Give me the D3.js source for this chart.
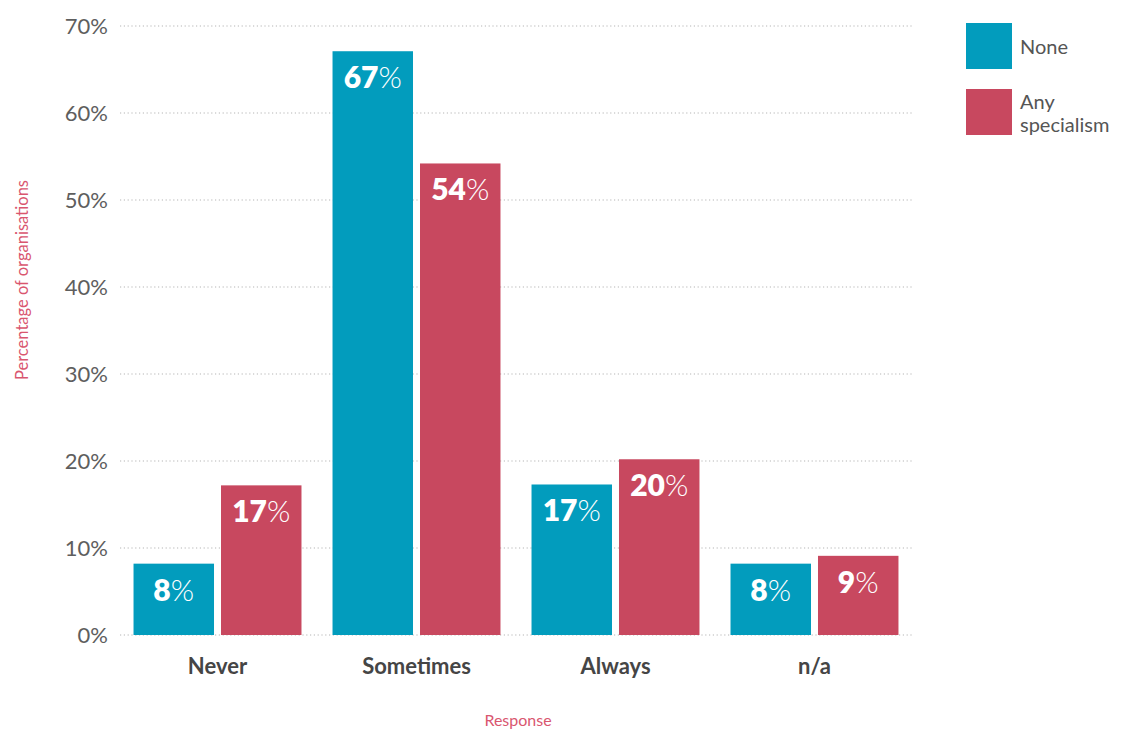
<!DOCTYPE html>
<html>
<head>
<meta charset="utf-8">
<script src="https://cdn.jsdelivr.net/npm/d3@7"></script>
<style>
  body { margin: 0; background: #fff; }
  text { font-family: Lato, "Open Sans", sans-serif; }
</style>
</head>
<body>
<svg id="chart" width="1130" height="733"></svg>
<script>
const categories = ["Never", "Sometimes", "Always", "n/a"];
const seriesNames = ["None", "Any specialism"];
const noneValues = [8.2, 67.1, 17.3, 8.2];
const anyValues = [17.2, 54.2, 20.2, 9.1];
const valueLabels = [["8", "17"], ["67", "54"], ["17", "20"], ["8", "9"]];
const yTicks = [0, 10, 20, 30, 40, 50, 60, 70];
const colors = ["#029cbd", "#c8485f"];

const svg = d3.select("#chart");

const y = d3.scaleLinear().domain([0, 70]).range([635, 26]);
const x0 = d3.scaleBand().domain(categories).range([120, 912]).paddingInner(0.156).paddingOuter(0.068);
const x1 = d3.scaleBand().domain(seriesNames).range([0, x0.bandwidth()]).paddingInner(0.08);

// gridlines
const grid = svg.append("g");
grid.selectAll("line").data(yTicks).join("line")
  .attr("x1", 120).attr("x2", 912)
  .attr("y1", d => y(d)).attr("y2", d => y(d))
  .attr("stroke", "#b5b5b5").attr("stroke-width", 1.2)
  .attr("stroke-dasharray", "1.2,2.6");

// y axis tick labels
const yAxis = d3.axisLeft(y).tickValues(yTicks).tickFormat(d => d + "%").tickSize(0).tickPadding(12);
const ya = svg.append("g").attr("transform", "translate(120,0)").call(yAxis);
ya.select(".domain").remove();
ya.selectAll("text").attr("font-size", 22).attr("fill", "#5e5e5e").attr("font-family", "Lato, sans-serif");

// bars
const data = categories.map((c, i) => ({ cat: c, vals: [noneValues[i], anyValues[i]], labels: valueLabels[i] }));
const groups = svg.append("g").selectAll("g").data(data).join("g")
  .attr("transform", d => `translate(${x0(d.cat)},0)`);

groups.selectAll("rect").data(d => d.vals.map((v, j) => ({ v, s: seriesNames[j], j })))
  .join("rect")
  .attr("x", d => x1(d.s))
  .attr("width", x1.bandwidth())
  .attr("y", d => y(d.v))
  .attr("height", d => y(0) - y(d.v))
  .attr("fill", d => colors[d.j]);

const lbl = groups.selectAll("text.val").data(d => d.vals.map((v, j) => ({ v, s: seriesNames[j], j, t: d.labels[j] })))
  .join("text")
  .attr("class", "val")
  .attr("x", d => x1(d.s) + x1.bandwidth() / 2)
  .attr("y", d => y(d.v) + 37)
  .attr("text-anchor", "middle")
  .attr("fill", "#fff")
  .attr("font-size", 30);
lbl.append("tspan").attr("font-weight", 800).text(d => d.t);
lbl.append("tspan").attr("font-weight", 300).text("%");

// x axis labels
const xAxis = d3.axisBottom(x0).tickSize(0).tickPadding(0);
const xa = svg.append("g").attr("transform", "translate(0,674)").call(xAxis);
xa.select(".domain").remove();
xa.selectAll("text").attr("font-size", 22).attr("font-weight", 700).attr("fill", "#454545")
  .attr("font-family", "Lato, sans-serif").attr("dy", "0");

// axis titles
svg.append("text").attr("x", 518).attr("y", 726).attr("text-anchor", "middle")
  .attr("font-family", "'Open Sans', sans-serif")
  .attr("font-size", 16).attr("fill", "#d9566f").text("Response");
svg.append("text").attr("transform", "translate(28,280) rotate(-90)").attr("text-anchor", "middle")
  .attr("font-family", "'Open Sans', sans-serif")
  .attr("font-size", 16.5).attr("fill", "#d9566f").text("Percentage of organisations");

// legend
const legend = svg.append("g").attr("transform", "translate(966,23)");
const legendLines = [["None"], ["Any", "specialism"]];
seriesNames.forEach((s, i) => {
  const g = legend.append("g").attr("transform", `translate(0,${i * 66})`);
  g.append("rect").attr("width", 46).attr("height", 46).attr("fill", colors[i]);
  const t = g.append("text").attr("x", 54).attr("font-size", 20)
    .attr("font-family", "'Open Sans', sans-serif").attr("fill", "#555");
  const lines = legendLines[i];
  const startY = lines.length === 1 ? 31 : 20;
  lines.forEach((l, k) => t.append("tspan").attr("x", 54).attr("y", startY + k * 23).text(l));
});
</script>
</body>
</html>
